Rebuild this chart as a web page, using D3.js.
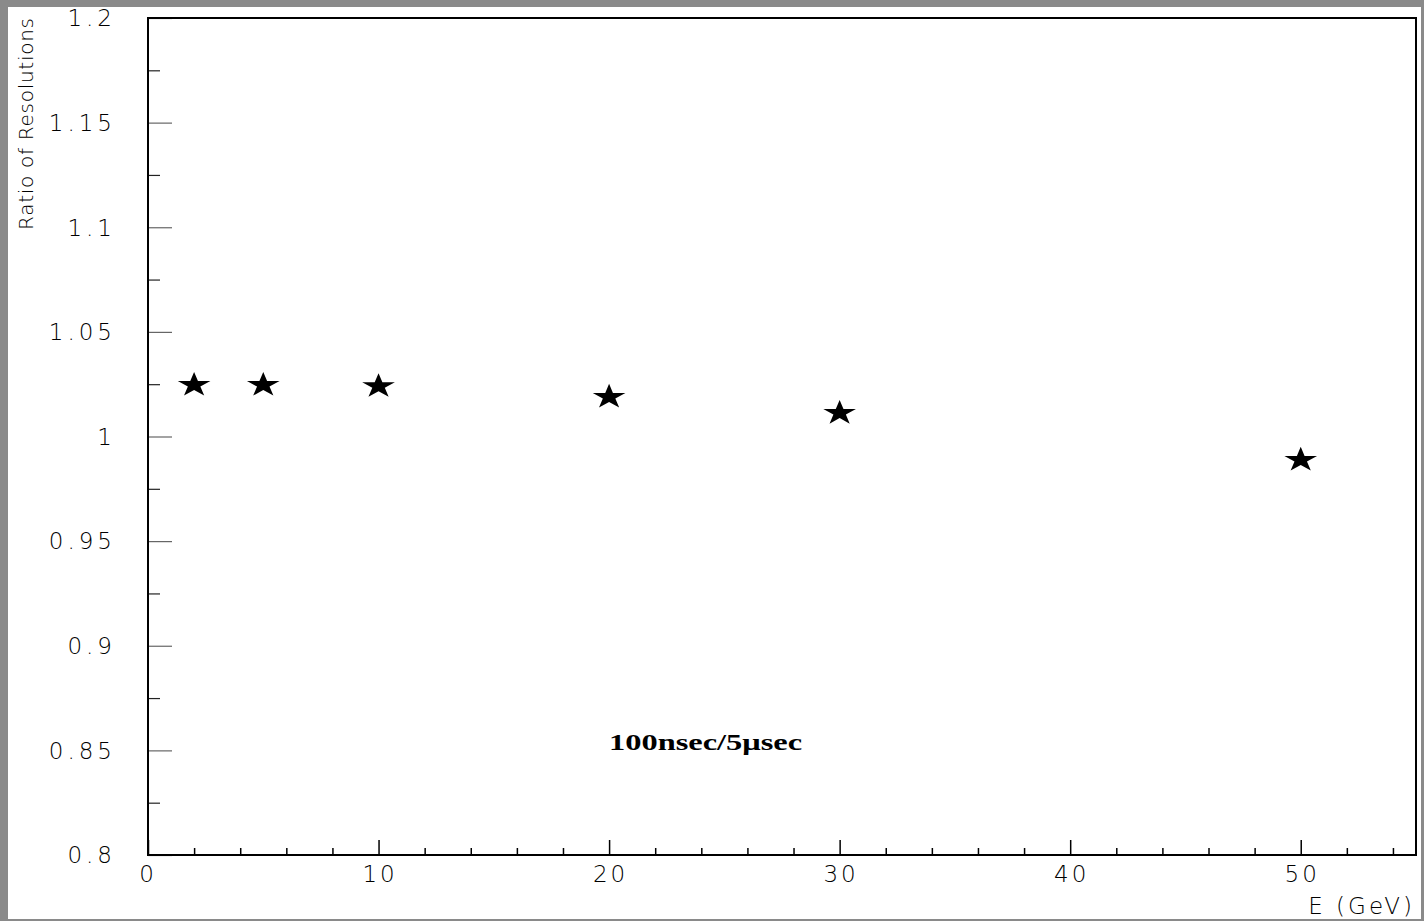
<!DOCTYPE html>
<html>
<head>
<meta charset="utf-8">
<script src="https://cdn.jsdelivr.net/npm/d3@7"></script>
<style>
  body { margin: 0; background: #8a8a8a; }
  svg { display: block; }
  .tick-label { font-family: "DejaVu Sans", sans-serif; font-weight: 200; font-size: 23px; fill: #000; }
</style>
</head>
<body>
<svg id="chart" width="1424" height="921"></svg>
<script>
// values
const energies = [2, 5, 10, 20, 30, 50];
const ratios = [1.0246, 1.0246, 1.0240, 1.0189, 1.0112, 0.9888];
const xTicks = [0, 10, 20, 30, 40, 50];
const yTicks = [0.8, 0.85, 0.9, 0.95, 1, 1.05, 1.1, 1.15, 1.2];
const yTickLabels = ["0.8", "0.85", "0.9", "0.95", "1", "1.05", "1.1", "1.15", "1.2"];
const xTitle = "E (GeV)";
const yTitle = "Ratio of Resolutions";
const note = "100nsec/5\u03bcsec";

const svg = d3.select("#chart");
const margin = { top: 18, right: 8, bottom: 66, left: 148 };
const width = +svg.attr("width") - margin.left - margin.right;
const height = +svg.attr("height") - margin.top - margin.bottom;

// white page inside the grey border
svg.append("rect")
    .attr("x", 8).attr("y", 7)
    .attr("width", 1413).attr("height", 912)
    .attr("fill", "#fff");

const x = d3.scaleLinear().domain([0, 55]).range([0, width]);
const y = d3.scaleLinear().domain([0.8, 1.2]).range([height, 0]);

const g = svg.append("g")
    .attr("transform", "translate(" + margin.left + "," + margin.top + ")");

// x axis: major every 10, minor every 2
const xAxis = g.append("g")
    .attr("transform", "translate(0," + height + ")")
    .call(d3.axisBottom(x).tickValues(d3.range(0, 56, 2)).tickSize(-7).tickFormat(""));
xAxis.selectAll(".tick line").attr("stroke", "#000").attr("stroke-width", 1.5)
    .filter(d => d % 10 === 0).attr("y2", -15);
xAxis.select(".domain").remove();

g.selectAll(".xlab")
    .data(xTicks)
    .enter().append("text")
    .attr("class", "tick-label")
    .attr("x", d => x(d))
    .attr("y", height + 27)
    .attr("text-anchor", "middle")
    .attr("letter-spacing", 3)
    .attr("dx", d => d === 0 ? 0 : 1.5)
    .text(d => d);

// y axis: major every 0.05, minor at halves
const yAxis = g.append("g")
    .call(d3.axisLeft(y).tickValues(d3.range(0, 17).map(i => 0.8 + i * 0.025)).tickSize(-12).tickFormat(""));
yAxis.selectAll(".tick line").attr("stroke", "#222").attr("stroke-width", 1.2)
    .filter((d, i) => i % 2 === 0).attr("x2", 24).attr("stroke", "#666");
yAxis.select(".domain").remove();

g.selectAll(".ylab")
    .data(yTicks)
    .enter().append("text")
    .attr("class", "tick-label")
    .attr("x", -36)
    .attr("y", d => y(d))
    .attr("dy", "0.36em")
    .attr("text-anchor", "end")
    .attr("letter-spacing", 4)
    .attr("dx", 4)
    .text((d, i) => yTickLabels[i]);

// frame
g.append("rect")
    .attr("width", width).attr("height", height)
    .attr("fill", "none")
    .attr("stroke", "#000")
    .attr("stroke-width", 2);

// titles
svg.append("text")
    .attr("class", "tick-label")
    .attr("x", 1415).attr("y", 914)
    .attr("text-anchor", "end")
    .attr("letter-spacing", 3)
    .text(xTitle);

svg.append("text")
    .attr("class", "tick-label")
    .attr("transform", "rotate(-90)")
    .attr("x", -18).attr("y", 33)
    .attr("text-anchor", "end")
    .attr("textLength", 212)
    .style("font-size", "20px")
    .text(yTitle);

// star markers
const star = d3.symbol().type(d3.symbolStar).size(300);
g.selectAll(".pt")
    .data(energies)
    .enter().append("path")
    .attr("d", star)
    .attr("transform", (d, i) => "translate(" + x(d) + "," + y(ratios[i]) + ") scale(1.05,0.8)")
    .attr("fill", "#000");

// annotation
g.append("text")
    .attr("x", x(20))
    .attr("y", y(0.85))
    .attr("font-family", "'Liberation Serif', 'Times New Roman', serif")
    .attr("font-weight", "bold")
    .attr("font-size", 24)
    .attr("textLength", 193)
    .attr("lengthAdjust", "spacingAndGlyphs")
    .text(note);
</script>
</body>
</html>
